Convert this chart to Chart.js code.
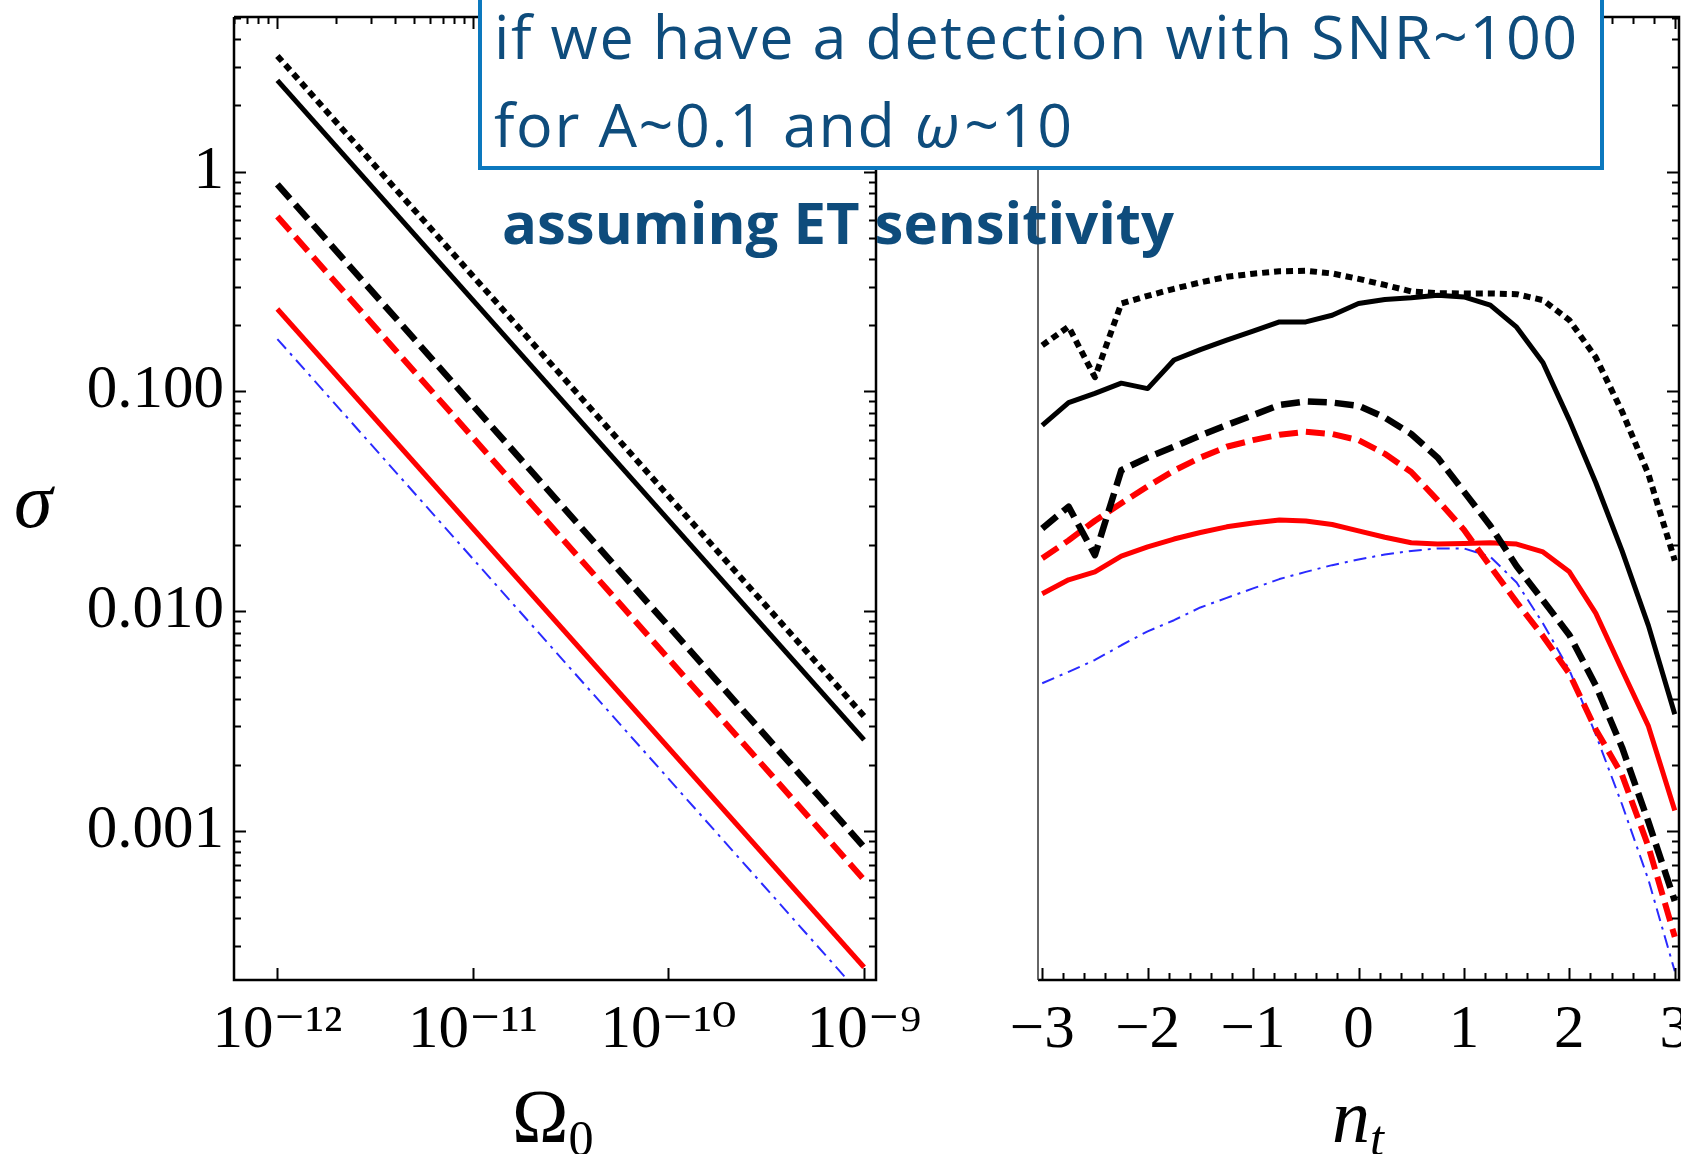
<!DOCTYPE html>
<html>
<head>
<meta charset="UTF-8">
<title>sigma vs Omega0 and n_t</title>
<style>
  html, body { margin: 0; padding: 0; background: #fff; overflow: hidden; }
  #page { position: relative; width: 1681px; height: 1154px; overflow: hidden; background: #fff; }
  canvas { position: absolute; top: 0; }
  #left { left: 0; }
  #right { left: 880px; }
  .axt { position: absolute; font-family: "Liberation Serif", serif; color: #000; line-height: 1; white-space: nowrap; }
  .axt sub { font-size: 0.66em; vertical-align: -0.25em; }
  #note { position: absolute; left: 478px; top: -12px; width: 1126px; height: 182px; box-sizing: border-box;
          border: 4px solid #0c78be; background: #fff; z-index: 5; color: #0e4c7c;
          font-family: "Open Sans", "Noto Sans", sans-serif; font-size: 61px; line-height: 88px;
          letter-spacing: 1.6px; padding: 0 0 0 12px; white-space: nowrap; }
  #note .l1 { margin-top: 0px; }
  #note i { padding: 0 3px 0 1px; }
  #et { position: absolute; left: 502px; top: 193px; z-index: 5; color: #0e4c7c; font-weight: bold;
        font-family: "Open Sans", "Noto Sans", sans-serif; font-size: 58px; line-height: 1; white-space: nowrap; }
</style>
</head>
<body>
<div id="page">
  <canvas id="left" width="960" height="1154"></canvas>
  <canvas id="right" width="900" height="1154"></canvas>

  <div class="axt" style="left:14px; top:462px; font-size:78px; font-style:italic;">σ</div>
  <div class="axt" style="left:512px; top:1078px; font-size:76px;">Ω<sub>0</sub></div>
  <div class="axt" style="left:1332px; top:1078px; font-size:76px; font-style:italic;">n<sub>t</sub></div>

  <div id="note">
    <div class="l1">if we have a detection with SNR~100</div>
    <div>for A~0.1 and <i>ω</i>~10</div>
  </div>
  <div id="et">assuming ET sensitivity</div>
</div>

<script src="https://cdn.jsdelivr.net/npm/chart.js@4.4.1/dist/chart.umd.min.js"></script>
<script>
  // left panel: sigma against Omega_0 (log-log, straight lines)
  var omega = [1e-12, 1e-9];
  var omBlackDotted = [3.36, 0.00333];
  var omBlackSolid  = [2.6, 0.0026];
  var omBlackDashed = [0.874, 0.000845];
  var omRedDashed   = [0.624, 0.0006];
  var omRedSolid    = [0.237, 0.00024];
  var omBlue        = [0.173, 0.000173];

  // right panel: sigma against n_t
  var nt = [-3, -2.75, -2.5, -2.25, -2, -1.75, -1.5, -1.25, -1, -0.75, -0.5, -0.25, 0,
            0.25, 0.5, 0.75, 1, 1.25, 1.5, 1.75, 2, 2.25, 2.5, 2.75, 3];
  var ntBlackDotted = [0.162, 0.197, 0.116, 0.251, 0.272, 0.293, 0.313, 0.332, 0.343, 0.352, 0.354, 0.344, 0.325,
                       0.305, 0.285, 0.280, 0.279, 0.279, 0.277, 0.26, 0.211, 0.143, 0.081, 0.042, 0.017];
  var ntBlackSolid  = [0.070, 0.089, 0.098, 0.109, 0.103, 0.139, 0.155, 0.171, 0.188, 0.207, 0.207, 0.222, 0.251,
                       0.262, 0.267, 0.274, 0.269, 0.247, 0.196, 0.135, 0.074, 0.0385, 0.0188, 0.0086, 0.0034];
  var ntBlackDashed = [0.0238, 0.0299, 0.018, 0.0438, 0.050, 0.056, 0.063, 0.0703, 0.078, 0.0867, 0.090, 0.089, 0.086,
                       0.076, 0.064, 0.050, 0.035, 0.0245, 0.016, 0.0112, 0.0078, 0.0046, 0.0024, 0.0011, 0.00048];
  var ntRedDashed   = [0.0174, 0.021, 0.0258, 0.031, 0.037, 0.0436, 0.050, 0.056, 0.060, 0.0635, 0.0655, 0.064, 0.060,
                       0.052, 0.043, 0.032, 0.0235, 0.016, 0.011, 0.0077, 0.0052, 0.0029, 0.0018, 0.00085, 0.00033];
  var ntRedSolid    = [0.012, 0.0139, 0.0151, 0.0178, 0.0196, 0.0213, 0.0228, 0.0242, 0.0252, 0.026, 0.0257, 0.0248, 0.0232,
                       0.0217, 0.0205, 0.0202, 0.0203, 0.0205, 0.0202, 0.0186, 0.0151, 0.0098, 0.0054, 0.003, 0.00124];
  var ntBlue        = [0.0047, 0.0053, 0.006, 0.007, 0.0081, 0.0091, 0.0104, 0.0115, 0.0127, 0.014, 0.0151, 0.0162, 0.0172,
                       0.0181, 0.0188, 0.0193, 0.0193, 0.0177, 0.0135, 0.0088, 0.0054, 0.00275, 0.00132, 0.0006, 0.00023];

  // axes
  var omegaTicks = [1e-12, 1e-11, 1e-10, 1e-9];
  var omegaTickLabels = ['10⁻¹²', '10⁻¹¹', '10⁻¹⁰', '10⁻⁹'];
  var sigmaTicks = [0.001, 0.01, 0.1, 1];
  var sigmaTickLabels = ['0.001', '0.010', '0.100', '1'];
  var ntTicks = [-3, -2, -1, 0, 1, 2, 3];
  var ntTickLabels = ['−3', '−2', '−1', '0', '1', '2', '3'];
  var omegaRange = [6.37e-13, 1.151e-9];
  var sigmaRange = [2.10e-4, 5.05];
  var ntRange = [-3.04, 3.04];

  var styles = [
    { color: '#000000', width: 6,   dash: [7, 5] },          // black dotted
    { color: '#000000', width: 5,   dash: [] },              // black solid
    { color: '#000000', width: 6.5, dash: [19, 8] },         // black dashed
    { color: '#ff0000', width: 6,   dash: [19, 8] },         // red dashed
    { color: '#ff0000', width: 5,   dash: [] },              // red solid
    { color: '#2a2aff', width: 2,   dash: [13, 6, 3, 6] }    // blue dash-dot
  ];

  var makeSets = function(xs, series) {
    return series.map(function(ys, k) {
      return {
        data: xs.map(function(x, i) { return { x: x, y: ys[i] }; }),
        borderColor: styles[k].color,
        borderWidth: styles[k].width,
        borderDash: styles[k].dash,
        borderCapStyle: 'butt',
        borderJoinStyle: 'round',
        pointRadius: 0,
        tension: 0,
        fill: false,
        clip: 0
      };
    });
  };

  var logMinors = function(lo, hi) {
    var out = [];
    for (var e = Math.floor(Math.log10(lo)) - 1; e <= Math.ceil(Math.log10(hi)); e++) {
      for (var k = 1; k <= 9; k++) {
        var v = k * Math.pow(10, e);
        if (v >= lo && v <= hi) out.push({ v: v, major: k == 1 });
      }
    }
    return out;
  };

  var linMinors = function(lo, hi) {
    var out = [];
    for (var i = Math.ceil(lo * 5); i <= Math.floor(hi * 5); i++) {
      out.push({ v: i / 5, major: i % 5 == 0 });
    }
    return out;
  };

  // frame and inward tick marks, placed with the chart's own scales
  var frameTicks = {
    id: 'frameTicks',
    afterDraw: function(chart, args, opts) {
      var ctx = chart.ctx, a = chart.chartArea;
      var xs = chart.scales.x, ys = chart.scales.y;
      ctx.save();
      ctx.strokeStyle = '#000';
      ctx.lineCap = 'butt';
      ctx.lineWidth = 2;
      var xt = opts.xMinors(xs.min, xs.max);
      var yt = opts.yMinors(ys.min, ys.max);
      ctx.beginPath();
      xt.forEach(function(t) {
        var px = Math.round(xs.getPixelForValue(t.v)) + 0.5;
        var len = t.major ? 12 : 7;
        if (t.major || opts.bottomMinor) { ctx.moveTo(px, a.bottom); ctx.lineTo(px, a.bottom - len); }
        ctx.moveTo(px, a.top); ctx.lineTo(px, a.top + len);
      });
      yt.forEach(function(t) {
        var py = Math.round(ys.getPixelForValue(t.v)) + 0.5;
        var len = t.major ? 12 : 7;
        if (opts.leftTicks) { ctx.moveTo(a.left, py); ctx.lineTo(a.left + len, py); }
        ctx.moveTo(a.right, py); ctx.lineTo(a.right - len, py);
      });
      ctx.stroke();
      ctx.lineWidth = 2.5;
      ctx.beginPath();
      ctx.moveTo(a.left, a.top); ctx.lineTo(a.right, a.top);
      ctx.lineTo(a.right, a.bottom); ctx.lineTo(a.left, a.bottom);
      if (opts.leftTicks) ctx.lineTo(a.left, a.top);
      ctx.stroke();
      if (!opts.leftTicks) {
        ctx.lineWidth = 1.5;
        ctx.strokeStyle = '#333';
        ctx.beginPath();
        ctx.moveTo(a.left, a.top); ctx.lineTo(a.left, a.bottom);
        ctx.stroke();
      }
      ctx.restore();
    }
  };

  var tickFont = { family: "'Liberation Serif', 'DejaVu Serif', serif", size: 61 };

  // keep the plot box where it is: no extra room for half-labels at the ends
  var noPadX = function(h) { return function(s) { s.height = h; s.paddingLeft = 0; s.paddingRight = 0; }; };
  var noPadY = function(w) { return function(s) { s.width = w; s.paddingTop = 0; s.paddingBottom = 0; }; };

  new Chart(document.getElementById('left'), {
    type: 'line',
    data: { datasets: makeSets(omega, [omBlackDotted, omBlackSolid, omBlackDashed, omRedDashed, omRedSolid, omBlue]) },
    plugins: [frameTicks],
    options: {
      responsive: false,
      animation: false,
      devicePixelRatio: 1,
      layout: { padding: { top: 17, right: 84, left: 0, bottom: 0 } },
      plugins: {
        legend: { display: false },
        tooltip: { enabled: false },
        frameTicks: { xMinors: logMinors, yMinors: logMinors, leftTicks: true, bottomMinor: false }
      },
      scales: {
        x: {
          type: 'logarithmic', min: omegaRange[0], max: omegaRange[1],
          grid: { display: false, drawTicks: false }, border: { display: false },
          afterBuildTicks: function(s) { s.ticks = omegaTicks.map(function(v) { return { value: v }; }); },
          afterFit: noPadX(174),
          ticks: { autoSkip: false, maxRotation: 0, padding: 14, color: '#000', font: tickFont,
                   callback: function(v, i) { return omegaTickLabels[i]; } }
        },
        y: {
          type: 'logarithmic', min: sigmaRange[0], max: sigmaRange[1],
          grid: { display: false, drawTicks: false }, border: { display: false },
          afterBuildTicks: function(s) { s.ticks = sigmaTicks.map(function(v) { return { value: v }; }); },
          afterFit: noPadY(234),
          ticks: { autoSkip: false, padding: 10, color: '#000', font: tickFont,
                   callback: function(v, i) { return sigmaTickLabels[i]; } }
        }
      }
    }
  });

  new Chart(document.getElementById('right'), {
    type: 'line',
    data: { datasets: makeSets(nt, [ntBlackDotted, ntBlackSolid, ntBlackDashed, ntRedDashed, ntRedSolid, ntBlue]) },
    plugins: [frameTicks],
    options: {
      responsive: false,
      animation: false,
      devicePixelRatio: 1,
      layout: { padding: { top: 17, right: 101, left: 0, bottom: 0 } },
      plugins: {
        legend: { display: false },
        tooltip: { enabled: false },
        frameTicks: { xMinors: linMinors, yMinors: logMinors, leftTicks: false, bottomMinor: true }
      },
      scales: {
        x: {
          type: 'linear', min: ntRange[0], max: ntRange[1],
          grid: { display: false, drawTicks: false }, border: { display: false },
          afterBuildTicks: function(s) { s.ticks = ntTicks.map(function(v) { return { value: v }; }); },
          afterFit: noPadX(174),
          ticks: { autoSkip: false, maxRotation: 0, padding: 14, color: '#000', font: tickFont,
                   callback: function(v, i) { return ntTickLabels[i]; } }
        },
        y: {
          type: 'logarithmic', min: sigmaRange[0], max: sigmaRange[1],
          grid: { display: false, drawTicks: false }, border: { display: false },
          afterBuildTicks: function(s) { s.ticks = sigmaTicks.map(function(v) { return { value: v }; }); },
          afterFit: noPadY(158),
          ticks: { display: false }
        }
      }
    }
  });
</script>
</body>
</html>
